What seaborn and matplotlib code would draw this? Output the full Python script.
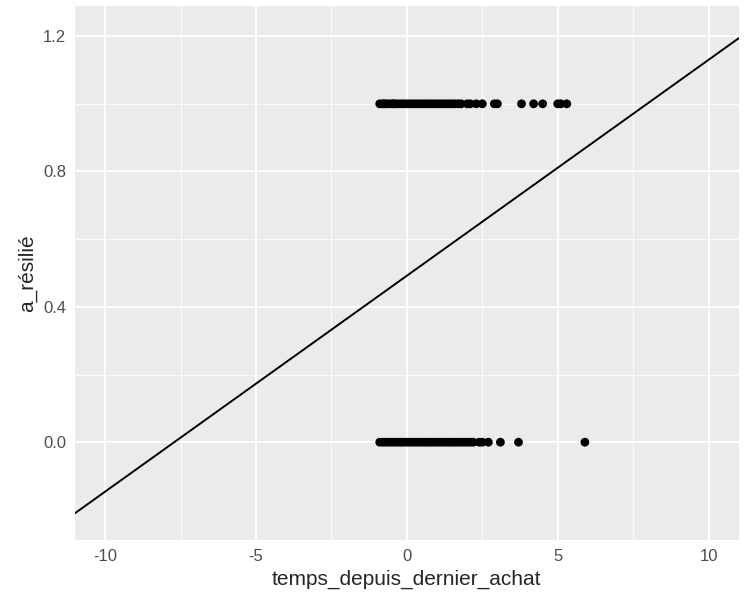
import matplotlib
matplotlib.use("Agg")
import matplotlib.pyplot as plt
import seaborn as sns
import numpy as np
import pandas as pd

x_churn1 = [-0.9,-0.8,-0.75,-0.7,-0.6,-0.5,-0.45,-0.4,-0.3,-0.2,-0.1,0.0,0.1,0.2,0.3,0.4,0.5,0.6,0.7,0.8,0.9,1.0,1.1,1.2,1.3,1.4,1.5,1.6,1.7,1.8,2.0,2.1,2.3,2.5,2.9,3.0,3.8,4.2,4.5,5.0,5.1,5.3]
x_churn0 = [-0.9,-0.8,-0.7,-0.6,-0.5,-0.4,-0.3,-0.2,-0.1,0.0,0.1,0.2,0.3,0.4,0.5,0.6,0.7,0.8,0.9,1.0,1.1,1.2,1.3,1.4,1.5,1.6,1.7,1.8,1.9,2.0,2.1,2.2,2.4,2.5,2.7,3.1,3.7,5.9]
intercept = 0.492
slope = 0.0638

df = pd.DataFrame({"temps_depuis_dernier_achat": x_churn1 + x_churn0,
                   "a_résilié": [1.0]*len(x_churn1) + [0.0]*len(x_churn0)})

sns.set_theme(style="darkgrid")
plt.rcParams['font.family'] = ['Liberation Sans', 'DejaVu Sans']
plt.rcParams['axes.unicode_minus'] = False
fig, ax = plt.subplots(figsize=(7.5, 6), dpi=100)
ax.set_facecolor("#EBEBEB")
sns.scatterplot(data=df, x="temps_depuis_dernier_achat", y="a_résilié", ax=ax,
                color="black", s=40, edgecolor="none", zorder=3)
xl = np.array([-11, 11])
ax.plot(xl, intercept + slope*xl, color="black", lw=1.4, zorder=2)
ax.set_xlim(-11, 11)
ax.set_ylim(-0.289, 1.289)
ax.set_xticks([-10, -5, 0, 5, 10])
ax.set_xticks([-7.5, -2.5, 2.5, 7.5], minor=True)
ax.set_yticks([0.0, 0.4, 0.8, 1.2])
ax.set_yticklabels(["0.0", "0.4", "0.8", "1.2"])
ax.set_yticks([0.2, 0.6, 1.0], minor=True)
ax.grid(which="major", color="white", lw=1.3)
ax.grid(which="minor", color="white", lw=0.6)
for s in ax.spines.values():
    s.set_visible(False)
ax.tick_params(axis="both", which="major", length=3, color="#333333", labelsize=12, labelcolor="#4D4D4D")
ax.tick_params(which="minor", length=0)
ax.set_xlabel("temps_depuis_dernier_achat", fontsize=15)
ax.set_ylabel("a_résilié", fontsize=15)
fig.subplots_adjust(left=0.1, right=0.985, top=0.99, bottom=0.1)
fig.savefig("out.png")
